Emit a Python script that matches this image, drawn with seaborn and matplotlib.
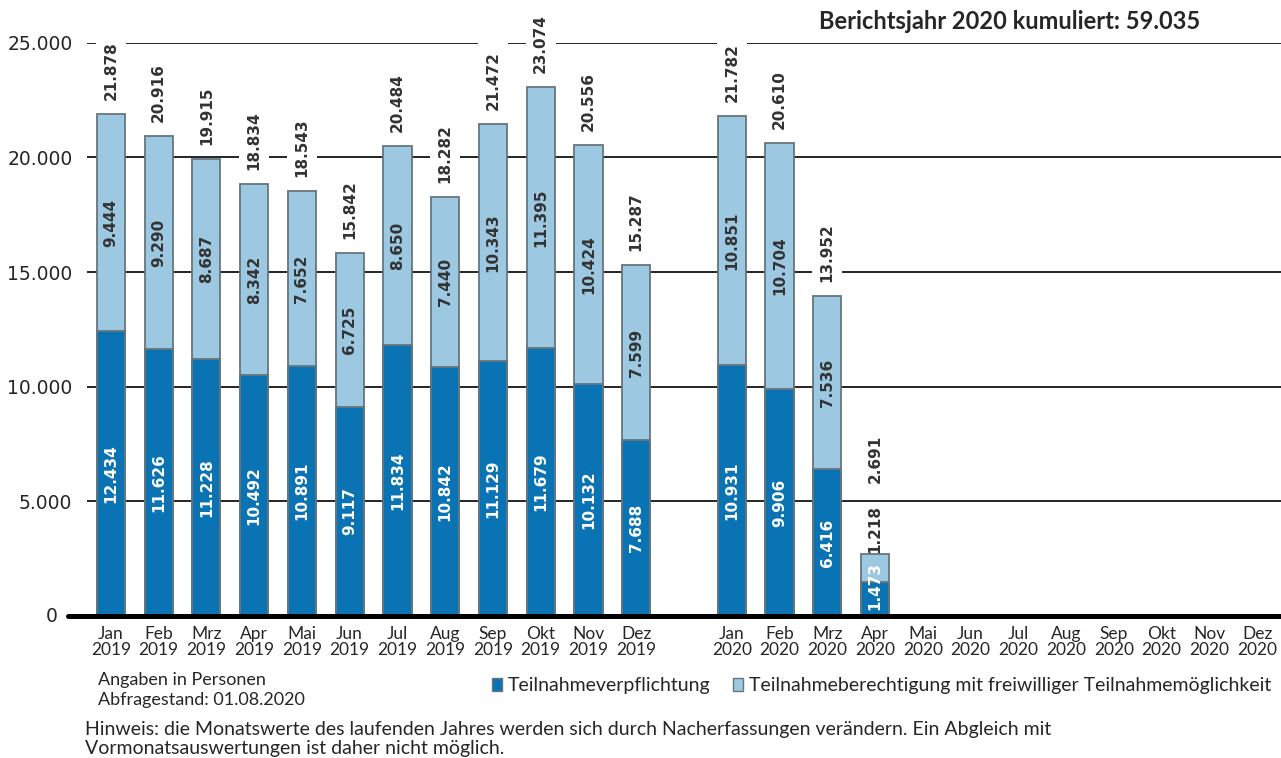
import numpy as np
import pandas as pd
import matplotlib.pyplot as plt
from matplotlib.patches import Patch
import seaborn as sns

# Werte je Monat (Personen)
monate = ["Jan", "Feb", "Mrz", "Apr", "Mai", "Jun", "Jul", "Aug", "Sep", "Okt", "Nov", "Dez"]
verpflichtung_2019 = [12434, 11626, 11228, 10492, 10891, 9117, 11834, 10842, 11129, 11679, 10132, 7688]
berechtigung_2019 = [9444, 9290, 8687, 8342, 7652, 6725, 8650, 7440, 10343, 11395, 10424, 7599]
verpflichtung_2020 = [10931, 9906, 6416, 1473]
berechtigung_2020 = [10851, 10704, 7536, 1218]
kumuliert_2020 = "59.035"

dunkel = "#0a73b4"
hell = "#9cc8e2"
rand = "#68757b"

labels_2019 = [m + "\n2019" for m in monate]
labels_2020 = [m + "\n2020" for m in monate]
order = labels_2019 + [" "] + labels_2020

df = pd.DataFrame({
    "monat": labels_2019 + labels_2020[:len(verpflichtung_2020)],
    "verpflichtung": verpflichtung_2019 + verpflichtung_2020,
    "berechtigung": berechtigung_2019 + berechtigung_2020,
})
df["gesamt"] = df["verpflichtung"] + df["berechtigung"]


def fmt(v):
    return f"{v:,}".replace(",", ".")


sns.set_style("white")
plt.rcParams["font.family"] = ["Lato", "DejaVu Sans"]

fig = plt.figure(figsize=(12.81, 7.58), dpi=100)
ax = fig.add_axes([0.0679, 0.1873, 0.9321, 0.7564])

sns.barplot(data=df, x="monat", y="gesamt", order=order, color=hell,
            saturation=1, width=0.59, edgecolor=rand, linewidth=1.3, ax=ax)
sns.barplot(data=df, x="monat", y="verpflichtung", order=order, color=dunkel,
            saturation=1, width=0.59, edgecolor=rand, linewidth=1.3, ax=ax)

ax.set_xlim(-0.5, 24.5)
ax.set_ylim(0, 25000)
yticks = np.arange(0, 25001, 5000)
ax.set_yticks(yticks)
# die Null steht etwas weiter links, vor der dicken Grundlinie
ax.set_yticklabels([""] + [fmt(v) for v in yticks[1:]],
                   fontfamily="DejaVu Sans", fontsize=13.5)
ax.annotate("0", (0, 0), xycoords=("axes fraction", "data"), xytext=(-29, 0),
            textcoords="offset pixels", ha="right", va="center",
            fontfamily="DejaVu Sans", fontsize=13.5)
ax.yaxis.grid(True, color="black", linewidth=1.2)
ax.set_axisbelow(True)
ax.tick_params(axis="y", length=0, pad=10.5)
ax.tick_params(axis="x", length=0, pad=7, labelsize=12.5)
for lab in ax.get_xticklabels():
    lab.set_linespacing(1.0)
ax.set_xlabel("")
ax.set_ylabel("")
for s in ax.spines.values():
    s.set_visible(False)
ax.axhline(0, xmin=-0.016, xmax=1, color="black", linewidth=3.6, clip_on=False, zorder=5)

# Beschriftungen
zahl = dict(fontfamily="DejaVu Sans", fontweight="bold", fontsize=11, rotation=90,
            ha="center")
for _, r in df.iterrows():
    x = order.index(r["monat"])
    v, b, g = r["verpflichtung"], r["berechtigung"], r["gesamt"]
    if v > 3000:
        ax.text(x, v / 2, fmt(v), color="white", va="center", **zahl)
    else:
        ax.annotate(fmt(v), (x, 0), xytext=(0, 6), textcoords="offset pixels",
                    color="white", va="bottom", **zahl)
    if b > 3000:
        ax.text(x, v + b / 2, fmt(b), color="#333333", va="center", **zahl)
        off = 14
    else:
        ax.annotate(fmt(b), (x, g), xytext=(0, 1), textcoords="offset pixels",
                    color="#333333", va="bottom", **zahl)
        off = 71
    ax.annotate(fmt(g), (x, g), xytext=(0, off), textcoords="offset pixels",
                color="#333333", va="bottom", zorder=6,
                bbox=dict(boxstyle="square,pad=0.5", fc="white", ec="none"), **zahl)

fig.text(0.788, 0.971, "Berichtsjahr 2020 kumuliert: " + kumuliert_2020,
         ha="center", va="center", fontsize=17, fontweight="bold")

fig.text(0.0765, 0.103, "Angaben in Personen", ha="left", va="center", fontsize=13)
fig.text(0.0765, 0.076, "Abfragestand: 01.08.2020", ha="left", va="center", fontsize=13)
fig.text(0.0664, 0.037, "Hinweis: die Monatswerte des laufenden Jahres werden sich durch "
         "Nacherfassungen verändern. Ein Abgleich mit", ha="left", va="center", fontsize=14)
fig.text(0.0664, 0.013, "Vormonatsauswertungen ist daher nicht möglich.",
         ha="left", va="center", fontsize=14)

handles = [Patch(fc=dunkel, ec=rand), Patch(fc=hell, ec=rand)]
fig.legend(handles, ["Teilnahmeverpflichtung",
                     "Teilnahmeberechtigung mit freiwilliger Teilnahmemöglichkeit"],
           loc="center right", bbox_to_anchor=(1.0, 0.095), ncol=2, frameon=False,
           fontsize=14, handlelength=0.5, handleheight=0.7, handletextpad=0.3,
           columnspacing=1.2, borderaxespad=0.1)

fig.savefig("out.png", dpi=100)
